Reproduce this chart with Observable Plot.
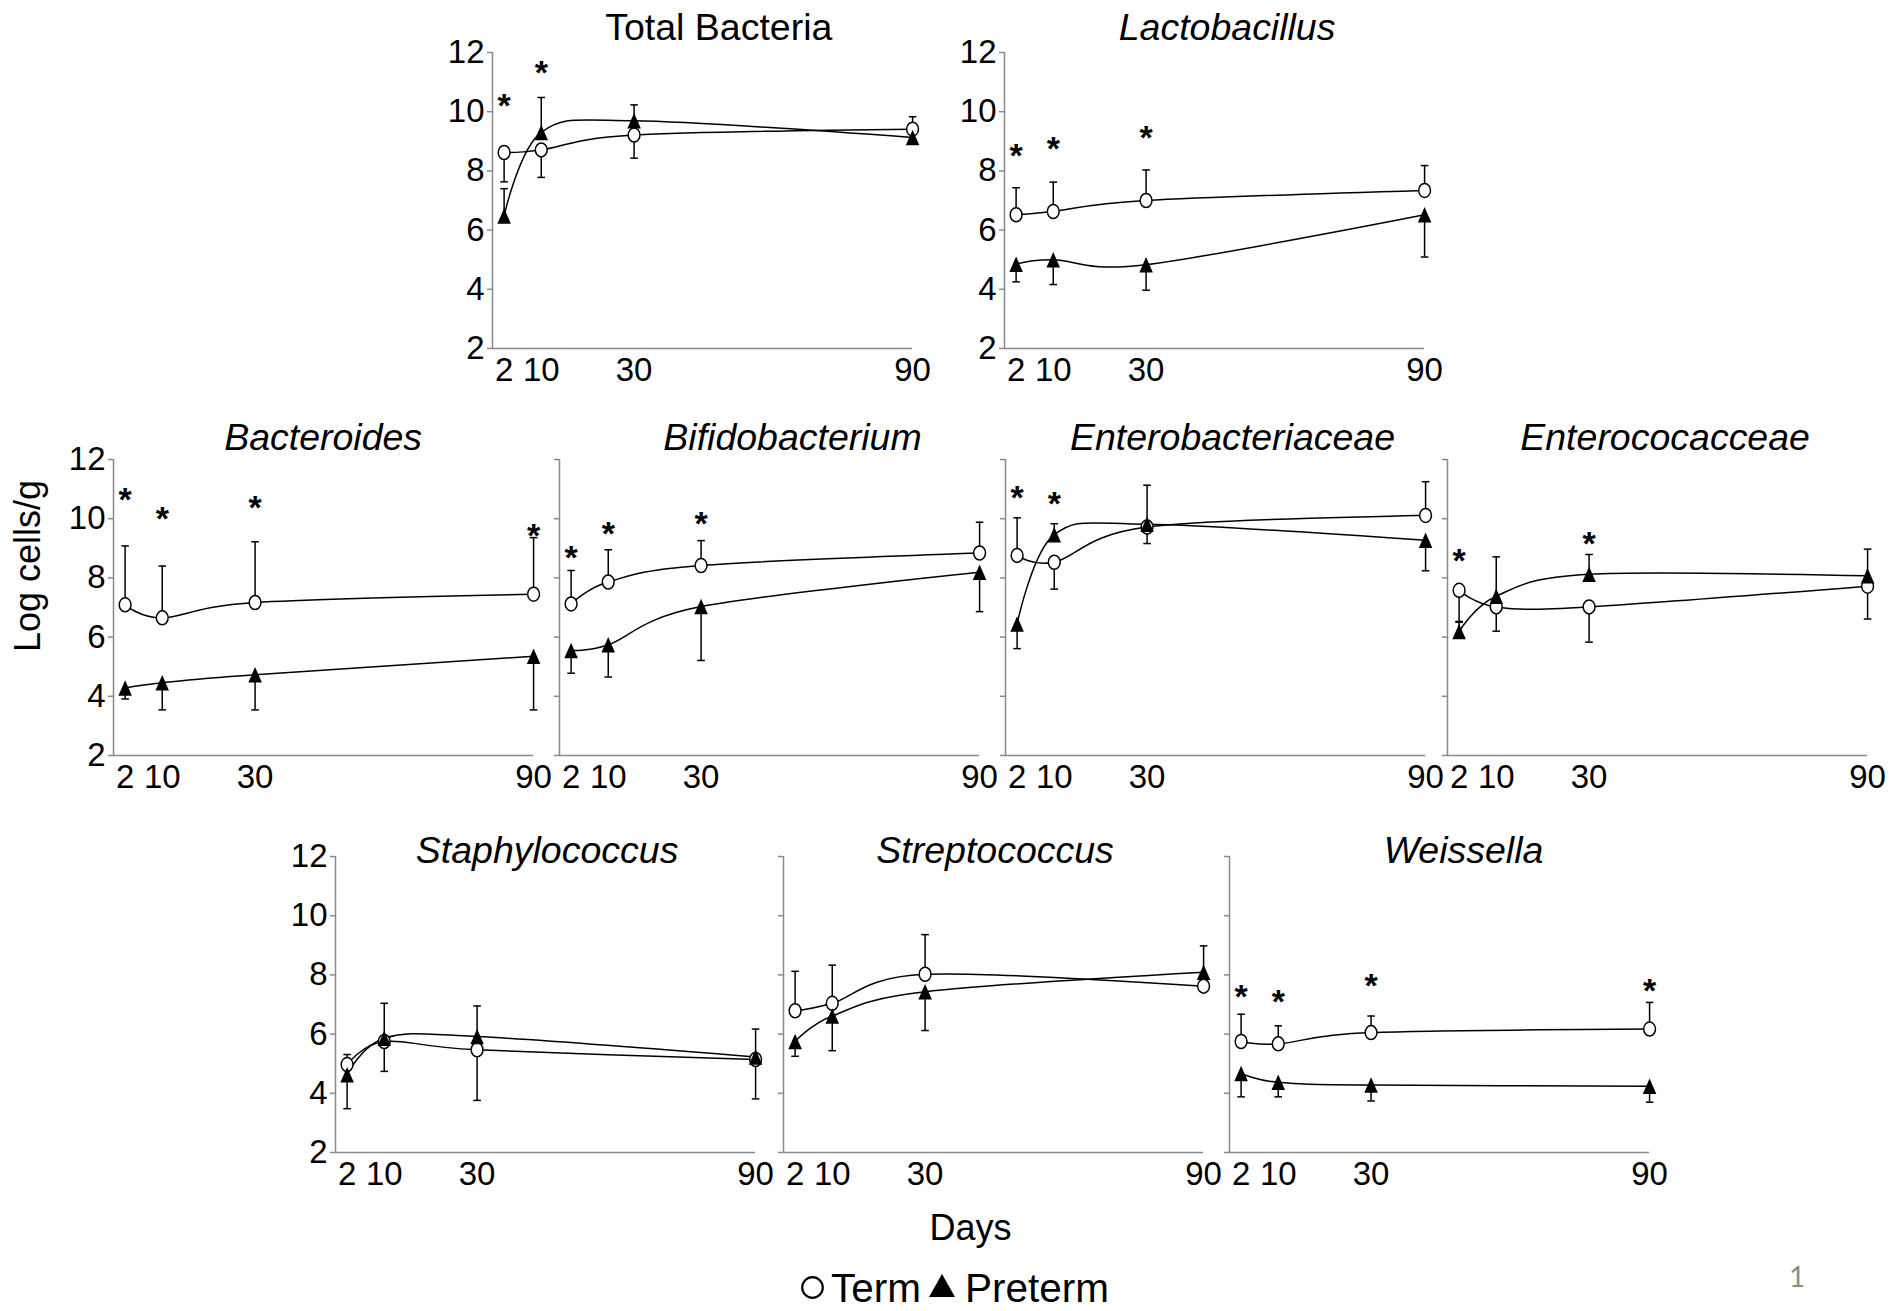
<!DOCTYPE html>
<html><head><meta charset="utf-8">
<script src="https://cdn.jsdelivr.net/npm/d3@7"></script>
<script src="https://cdn.jsdelivr.net/npm/@observablehq/plot@0.6"></script>
<style>
html,body{margin:0;padding:0;background:#fff;}
#page{position:relative;width:1901px;height:1311px;overflow:hidden;background:#fff;font-family:"Liberation Sans",Arial,sans-serif;color:#000;}
.panel{position:absolute;}
.lbl{position:absolute;white-space:nowrap;line-height:1;}
</style></head><body><div id="page"></div>
<script>
// ---------------- DATA ----------------
const days = [2, 10, 30, 90];
const yTicks = [2, 4, 6, 8, 10, 12];
const xDomain = [-0.5, 90];
const yDomain = [2, 12];
const taxa = ["Total Bacteria", "Lactobacillus", "Bacteroides", "Bifidobacterium",
  "Enterobacteriaceae", "Enterococacceae", "Staphylococcus", "Streptococcus", "Weissella"];
const italicTitle = [false, true, true, true, true, true, true, true, true];
const seriesNames = ["Term", "Preterm"];
const yLabel = "Log cells/g";
const xLabel = "Days";
const pageNumber = "1";

// mean log cells/g at days 2, 10, 30, 90
const termMean = [
  [8.62, 8.71, 9.21, 9.41],
  [6.52, 6.63, 7.00, 7.34],
  [7.09, 6.65, 7.17, 7.45],
  [7.12, 7.86, 8.42, 8.84],
  [8.76, 8.53, 9.72, 10.11],
  [7.58, 7.02, 7.02, 7.72],
  [4.97, 5.75, 5.47, 5.14],
  [6.79, 7.04, 8.02, 7.62],
  [5.75, 5.67, 6.05, 6.17]
];
// one-sided error bar length (negative = drawn below the mean, null = none shown)
const termErr = [
  [-0.99, -0.93, -0.78, 0.42],
  [0.91, 0.99, 1.03, 0.84],
  [1.99, 1.75, 2.05, 1.91],
  [1.13, 1.09, 0.84, 1.04],
  [1.27, -0.91, -0.56, 1.14],
  [-1.05, -0.82, -1.19, -1.11],
  [0.34, -1.01, -1.71, -1.33],
  [1.33, 1.29, 1.34, null],
  [0.92, 0.61, 0.56, 0.90]
];
const pretermMean = [
  [6.48, 9.30, 9.69, 9.13],
  [4.85, 5.00, 4.83, 6.52],
  [4.28, 4.46, 4.73, 5.35],
  [5.55, 5.74, 7.03, 8.19],
  [6.44, 9.46, 9.81, 9.27],
  [6.19, 7.38, 8.12, 8.07],
  [4.63, 5.86, 5.92, 5.23],
  [5.75, 6.61, 7.43, 8.09],
  [4.67, 4.37, 4.28, 4.24]
];
const pretermErr = [
  [0.92, 1.18, 0.54, null],
  [-0.60, -0.84, -0.86, -1.43],
  [-0.37, -0.92, -1.19, -1.81],
  [-0.77, -1.09, -1.82, -1.33],
  [-0.83, 0.37, 1.32, -1.03],
  [0.31, 1.33, 0.67, 0.90],
  [-1.15, 1.18, 1.03, 0.94],
  [-0.50, -1.17, -1.31, 0.89],
  [-0.79, -0.49, -0.54, -0.54]
];
// height of significance asterisk (null = not significant)
const sigStar = [
  [10.48, 11.6, null, null],
  [8.80, 9.02, 9.42, null],
  [10.93, 10.30, 10.65, 9.72],
  [8.98, 9.77, 10.10, null],
  [10.98, 10.79, null, null],
  [8.88, null, 9.44, null],
  [null, null, null, null],
  [null, null, null, null],
  [7.54, 7.37, 7.93, 7.76]
];

// ---------------- LAYOUT ----------------
const FRAME_W = 420.1, FRAME_H = 296;
const M = {left: 62, right: 34, top: 52, bottom: 50};
const layout = [
  {left: 491.7, top: 51.7, tx: 226.3, tdy: -12.7, yLabels: true},
  {left: 1004.1, top: 51.7, tx: 222.6, tdy: -12.7, yLabels: true},
  {left: 113.4, top: 459, tx: 209.6, tdy: -9, yLabels: true},
  {left: 559.4, top: 459, tx: 233, tdy: -9, yLabels: false},
  {left: 1005.1, top: 459, tx: 227, tdy: -9, yLabels: false},
  {left: 1447.4, top: 459, tx: 217.6, tdy: -9, yLabels: false},
  {left: 335.1, top: 856, tx: 211.6, tdy: 7, yLabels: true},
  {left: 783.4, top: 856, tx: 211.6, tdy: 7, yLabels: false},
  {left: 1229.1, top: 856, tx: 234, tdy: 7, yLabels: false}
];
const FONT = "'Liberation Sans', Arial, Helvetica, sans-serif";
const AXIS_GRAY = "#8a8a8a";
const LW = 1.5;
const TICK_FONT = 33;
const TITLE_FONT = 37.5;
const STAR_FONT = 34;

// marker shapes (Excel-like, slightly tall)
const ellipseSym = {draw(ctx) {
  const rx = 5.9, ry = 7.0, k = 0.5523;
  ctx.moveTo(rx, 0);
  ctx.bezierCurveTo(rx, ry * k, rx * k, ry, 0, ry);
  ctx.bezierCurveTo(-rx * k, ry, -rx, ry * k, -rx, 0);
  ctx.bezierCurveTo(-rx, -ry * k, -rx * k, -ry, 0, -ry);
  ctx.bezierCurveTo(rx * k, -ry, rx, -ry * k, rx, 0);
  ctx.closePath();
}};
const triSym = {draw(ctx) {
  const w = 13.5, h = 15.5;
  ctx.moveTo(0, -h / 2); ctx.lineTo(w / 2, h / 2); ctx.lineTo(-w / 2, h / 2); ctx.closePath();
}};
const capSym = {draw(ctx) { ctx.moveTo(-3.8, 0); ctx.lineTo(3.8, 0); }};

const page = document.getElementById("page");

taxa.forEach((name, i) => {
  const L = layout[i];
  const rows = days.map((d, j) => ({
    day: d,
    term: termMean[i][j],
    termEnd: termErr[i][j] == null ? null : termMean[i][j] + termErr[i][j],
    pre: pretermMean[i][j],
    preEnd: pretermErr[i][j] == null ? null : pretermMean[i][j] + pretermErr[i][j],
    star: sigStar[i][j]
  }));
  const tErr = rows.filter(d => d.termEnd != null);
  const pErr = rows.filter(d => d.preEnd != null);
  const stars = rows.filter(d => d.star != null);
  const width = M.left + FRAME_W + M.right;
  const height = M.top + FRAME_H + M.bottom;

  const chart = Plot.plot({
    width, height,
    marginLeft: M.left, marginRight: M.right, marginTop: M.top, marginBottom: M.bottom,
    x: {domain: xDomain, axis: null},
    y: {domain: yDomain, axis: null},
    style: {background: "transparent", overflow: "visible", maxWidth: "none", fontFamily: FONT, color: "black"},
    marks: [
      Plot.ruleX([xDomain[0]], {stroke: AXIS_GRAY, strokeWidth: LW}),
      Plot.ruleY([yDomain[0]], {stroke: AXIS_GRAY, strokeWidth: LW}),
      Plot.axisY({ticks: yTicks, label: null, tickSize: 5, tickPadding: 3, stroke: AXIS_GRAY, strokeWidth: LW,
        fill: "black", fontSize: TICK_FONT, tickFormat: L.yLabels ? (d => String(d)) : (() => "")}),
      Plot.axisX({ticks: days, label: null, tickSize: 0, tickPadding: 9, fill: "black", fontSize: TICK_FONT,
        tickFormat: d => String(d)}),
      Plot.line(rows, {x: "day", y: "term", curve: "cardinal", tension: 0, stroke: "black", strokeWidth: LW}),
      Plot.line(rows, {x: "day", y: "pre", curve: "cardinal", tension: 0, stroke: "black", strokeWidth: LW}),
      Plot.ruleX(tErr, {x: "day", y1: "term", y2: "termEnd", stroke: "black", strokeWidth: LW}),
      Plot.dot(tErr, {x: "day", y: "termEnd", symbol: capSym, stroke: "black", strokeWidth: LW, fill: "none"}),
      Plot.ruleX(pErr, {x: "day", y1: "pre", y2: "preEnd", stroke: "black", strokeWidth: LW}),
      Plot.dot(pErr, {x: "day", y: "preEnd", symbol: capSym, stroke: "black", strokeWidth: LW, fill: "none"}),
      Plot.dot(rows, {x: "day", y: "term", symbol: ellipseSym, fill: "white", stroke: "black", strokeWidth: LW}),
      Plot.dot(rows, {x: "day", y: "pre", symbol: triSym, fill: "black", stroke: "none"}),
      Plot.text(stars, {x: "day", y: "star", text: () => "*", fontSize: STAR_FONT, fontWeight: "bold",
        dy: 0.26 * STAR_FONT, fill: "black"}),
      Plot.text([name], {frameAnchor: "top-left", dx: L.tx, dy: L.tdy, lineAnchor: "bottom",
        textAnchor: "middle", fontSize: TITLE_FONT, fontStyle: italicTitle[i] ? "italic" : "normal", fill: "black"})
    ]
  });
  const div = document.createElement("div");
  div.className = "panel";
  div.style.left = (L.left - M.left) + "px";
  div.style.top = (L.top - M.top) + "px";
  div.style.width = width + "px";
  div.style.height = height + "px";
  div.appendChild(chart);
  page.appendChild(div);
});

// ---------------- GLOBAL LABELS / LEGEND ----------------
function addLabel(text, css) {
  const el = document.createElement("div");
  el.className = "lbl";
  el.textContent = text;
  Object.assign(el.style, css);
  page.appendChild(el);
  return el;
}
addLabel(yLabel, {left: "27.5px", top: "566px", fontSize: "36px",
  transform: "translate(-50%,-50%) rotate(-90deg)"});
addLabel(xLabel, {left: "970.5px", top: "1209.5px", fontSize: "36px", transform: "translateX(-50%)"});

const NS = "http://www.w3.org/2000/svg";
function legendIcon(kind, x, y, w, h) {
  const s = document.createElementNS(NS, "svg");
  s.setAttribute("width", w); s.setAttribute("height", h);
  s.style.position = "absolute"; s.style.left = x + "px"; s.style.top = y + "px"; s.style.overflow = "visible";
  let shape;
  if (kind === "circle") {
    shape = document.createElementNS(NS, "ellipse");
    shape.setAttribute("cx", w / 2); shape.setAttribute("cy", h / 2);
    shape.setAttribute("rx", w / 2 - 1.2); shape.setAttribute("ry", h / 2 - 1.2);
    shape.setAttribute("fill", "white"); shape.setAttribute("stroke", "black"); shape.setAttribute("stroke-width", 2.2);
  } else {
    shape = document.createElementNS(NS, "polygon");
    shape.setAttribute("points", `${w / 2},0 ${w},${h} 0,${h}`);
    shape.setAttribute("fill", "black");
  }
  s.appendChild(shape);
  page.appendChild(s);
}
// legend baseline at ~1302 (40.5px text)
legendIcon("circle", 801, 1276, 23, 23);
addLabel(seriesNames[0], {left: "831px", top: "1267.7px", fontSize: "40.5px"});
legendIcon("triangle", 929, 1274, 26, 23);
addLabel(seriesNames[1], {left: "965px", top: "1267.7px", fontSize: "40.5px"});

addLabel(pageNumber, {left: "1797px", top: "1262px", fontSize: "28px", color: "#8c8c8c",
  fontFamily: "Lato, 'Open Sans', sans-serif", transform: "translateX(-50%)"});
</script>
</body></html>
